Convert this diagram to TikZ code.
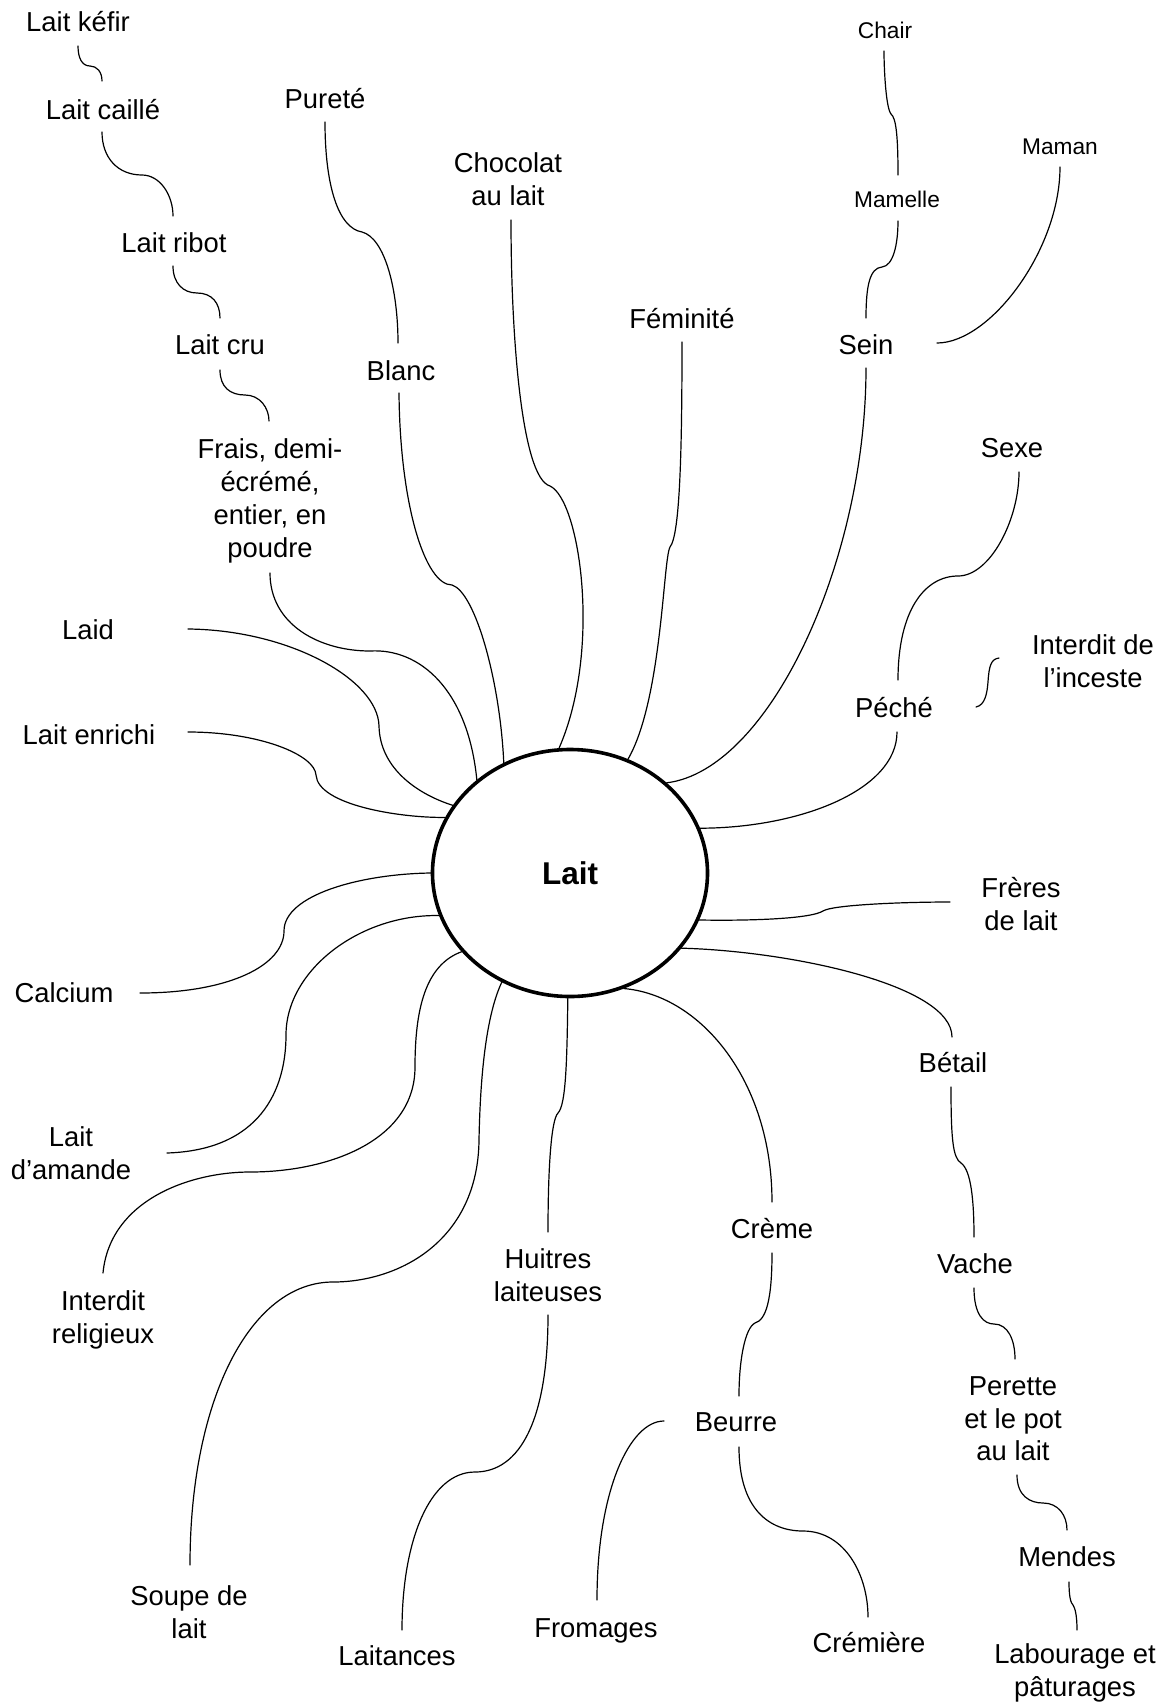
\documentclass[tikz,border=0pt]{standalone}
\usepackage{fontspec}
\setmainfont{Liberation Sans}
\usetikzlibrary{shapes.geometric,calc}
\begin{document}
\begin{tikzpicture}[x=1pt,y=-1pt,
  lbl/.style={font=\fontsize{27.4}{32.5}\selectfont,align=center,inner sep=0pt},
  sml/.style={font=\fontsize{22.7}{27}\selectfont,align=center,inner sep=0pt},
  conn/.style={line width=1.2pt,line cap=round},
  hub/.style={draw,ellipse,line width=3.6pt,minimum width=275pt,minimum height=247pt,inner sep=0pt,font=\fontsize{31.5}{36}\selectfont\bfseries}]
\useasboundingbox (0,0) rectangle (1164,1703);

% central node
\node[hub] (lait) at (570,873) {Lait};

% nodes
\node[lbl] (kef) at (78,22) {Lait kéfir};
\node[lbl] (cai) at (103,110) {Lait caillé};
\node[lbl] (rib) at (174,243) {Lait ribot};
\node[lbl] (cru) at (220,345) {Lait cru};
\node[lbl,font=\fontsize{27.4}{33.2}\selectfont] (fra) at (270,501) {Frais, demi-\\écrémé,\\entier, en\\poudre};
\node[lbl] (pur) at (325,99) {Pureté};
\node[lbl] (bla) at (401,371) {Blanc};
\node[lbl] (cho) at (508,179) {Chocolat\\au lait};
\node[lbl] (fem) at (682,319) {Féminité};
\node[sml] (cha) at (885,30) {Chair};
\node[sml] (mam) at (897,199) {Mamelle};
\node[sml] (man) at (1060,147) {Maman};
\node[lbl] (sei) at (866,345) {Sein};
\node[lbl] (sex) at (1012,448) {Sexe};
\node[lbl] (inc) at (1093,661) {Interdit de\\l’inceste};
\node[lbl] (pec) at (894,708) {Péché};
\node[lbl] (laid) at (88,630) {Laid};
\node[lbl] (enr) at (89,735) {Lait enrichi};
\node[lbl] (cal) at (64,993) {Calcium};
\node[lbl] (fre) at (1021,904) {Frères\\de lait};
\node[lbl] (bet) at (953,1063) {Bétail};
\node[lbl] (ama) at (71,1153) {Lait\\d’amande};
\node[lbl] (rel) at (103,1320) {Interdit\\religieux};
\node[lbl] (hui) at (548,1275) {Huitres\\laiteuses};
\node[lbl] (cre) at (772,1229) {Crème};
\node[lbl] (vac) at (975,1264) {Vache};
\node[lbl] (per) at (1013,1419) {Perette\\et le pot\\au lait};
\node[lbl] (beu) at (736,1422) {Beurre};
\node[lbl] (men) at (1067,1557) {Mendes};
\node[lbl] (sou) at (189,1612) {Soupe de\\lait};
\node[lbl] (fro) at (596,1631) {Fromages};
\node[lbl] (crm) at (869,1643) {Crémière};
\node[lbl] (ltc) at (397,1656) {Laitances};
\node[lbl] (lab) at (1075,1673) {Labourage et\\pâturages};

% connectors
\draw[conn] ($(kef)+(0,24)$) .. controls (78,58) and (82,66) .. (90,66) .. controls (97,66) and (102,72) .. ($(cai)+(-1,-29)$);
\draw[conn] ($(cai)+(-1,22)$) .. controls (102,158) and (118,175) .. (142,175) .. controls (160,175) and (173,195) .. ($(rib)+(-1,-27)$);
\draw[conn] ($(rib)+(-1,23)$) .. controls (173,283) and (183,293) .. (197,293) .. controls (212,293) and (220,303) .. ($(cru)+(0,-27)$);
\draw[conn] ($(cru)+(0,25)$) .. controls (220,387) and (230,395) .. (245,395) .. controls (260,395) and (269,408) .. ($(fra)+(-1,-80)$);
\draw[conn] ($(fra)+(0,72)$) .. controls (270,625) and (320,651) .. (370,651) .. controls (420,648) and (468,690) .. (lait.135.6);
\draw[conn] ($(pur)+(0,23)$) .. controls (325,185) and (338,228) .. (362,232) .. controls (385,238) and (398,290) .. ($(bla)+(-3,-28)$);
\draw[conn] ($(bla)+(-2,22)$) .. controls (400,505) and (425,585) .. (452,585) .. controls (475,592) and (500,680) .. (lait.121.7);
\draw[conn] ($(cho)+(3,41)$) .. controls (511,340) and (522,478) .. (550,486) .. controls (580,500) and (602,650) .. (lait.95.5);
\draw[conn] ($(fem)+(0,23)$) .. controls (682,450) and (680,535) .. (670,547) .. controls (663,560) and (662,700) .. (lait.63.2);
\draw[conn] ($(sei)+(0,23)$) .. controls (866,560) and (770,770) .. (lait.43.8);
\draw[conn] ($(sei)+(0,-27)$) .. controls (866,285) and (870,268) .. (882,267) .. controls (893,266) and (898,245) .. ($(mam)+(1,22)$);
\draw[conn] ($(mam)+(1,-24)$) .. controls (898,135) and (896,118) .. (891,114) .. controls (886,108) and (884,70) .. ($(cha)+(-1,21)$);
\draw[conn] ($(sei)+(71,-2)$) .. controls (990,343) and (1060,250) .. ($(man)+(0,20)$);
\draw[conn] (lait.19.1) .. controls (800,828) and (897,790) .. ($(pec)+(3,24)$);
\draw[conn] ($(pec)+(4,-28)$) .. controls (898,610) and (925,576) .. (958,576) .. controls (990,576) and (1019,520) .. ($(sex)+(7,24)$);
\draw[conn] ($(pec)+(82,-1)$) .. controls (985,705) and (987,694) .. (988,682) .. controls (989,666) and (991,659) .. ($(inc)+(-94,-3)$);
\draw[conn] ($(laid)+(100,-1)$) .. controls (290,630) and (378,680) .. (379,726) .. controls (380,770) and (420,795) .. (lait.150.8);
\draw[conn] ($(enr)+(99,-3)$) .. controls (260,732) and (315,755) .. (316,775) .. controls (318,805) and (400,818) .. (lait.156.8);
\draw[conn] ($(cal)+(76,0)$) .. controls (230,993) and (284,965) .. (284,931) .. controls (284,895) and (360,874) .. (lait.180);
\draw[conn] ($(ama)+(96,0)$) .. controls (260,1150) and (286,1090) .. (286,1035) .. controls (286,970) and (360,914) .. (lait.-162.9);
\draw[conn] (lait.-144.3) .. controls (425,965) and (415,1010) .. (415,1067) .. controls (415,1140) and (330,1172) .. (250,1172) .. controls (190,1172) and (110,1200) .. ($(rel)+(0,-47)$);
\draw[conn] (lait.-122.5) .. controls (484,1020) and (480,1090) .. (479,1140) .. controls (478,1240) and (400,1282) .. (333,1282) .. controls (250,1282) and (190,1400) .. ($(sou)+(1,-47)$);
\draw[conn] (lait.-91.4) .. controls (567,1060) and (566,1105) .. (558,1113) .. controls (551,1120) and (548,1170) .. ($(hui)+(0,-43)$);
\draw[conn] ($(hui)+(0,40)$) .. controls (548,1420) and (520,1472) .. (475,1472) .. controls (430,1472) and (402,1540) .. ($(ltc)+(5,-26)$);
\draw[conn] (lait.-65.3) .. controls (700,995) and (772,1080) .. ($(cre)+(0,-27)$);
\draw[conn] ($(cre)+(0,24)$) .. controls (772,1300) and (766,1320) .. (755,1323) .. controls (745,1328) and (739,1360) .. ($(beu)+(3,-26)$);
\draw[conn] ($(beu)+(-72,-1)$) .. controls (630,1421) and (597,1490) .. ($(fro)+(1,-31)$);
\draw[conn] ($(beu)+(3,25)$) .. controls (739,1510) and (770,1531) .. (803,1531) .. controls (845,1531) and (868,1575) .. ($(crm)+(-1,-26)$);
\draw[conn] (lait.-20.3) .. controls (760,921) and (812,918) .. (823,911) .. controls (832,905) and (900,902) .. ($(fre)+(-71,-2)$);
\draw[conn] (lait.-34.9) .. controls (790,951) and (952,985) .. ($(bet)+(-1,-26)$);
\draw[conn] ($(bet)+(-2,24)$) .. controls (951,1140) and (953,1158) .. (961,1163) .. controls (971,1170) and (974,1200) .. ($(vac)+(-1,-27)$);
\draw[conn] ($(vac)+(-1,24)$) .. controls (974,1315) and (984,1324) .. (994,1324) .. controls (1008,1324) and (1015,1340) .. ($(per)+(2,-60)$);
\draw[conn] ($(per)+(4,56)$) .. controls (1017,1496) and (1030,1503) .. (1043,1503) .. controls (1058,1503) and (1067,1515) .. ($(men)+(0,-27)$);
\draw[conn] ($(men)+(2,25)$) .. controls (1069,1598) and (1071,1603) .. (1073,1605) .. controls (1075,1608) and (1077,1615) .. ($(lab)+(2,-43)$);
\end{tikzpicture}
\end{document}
